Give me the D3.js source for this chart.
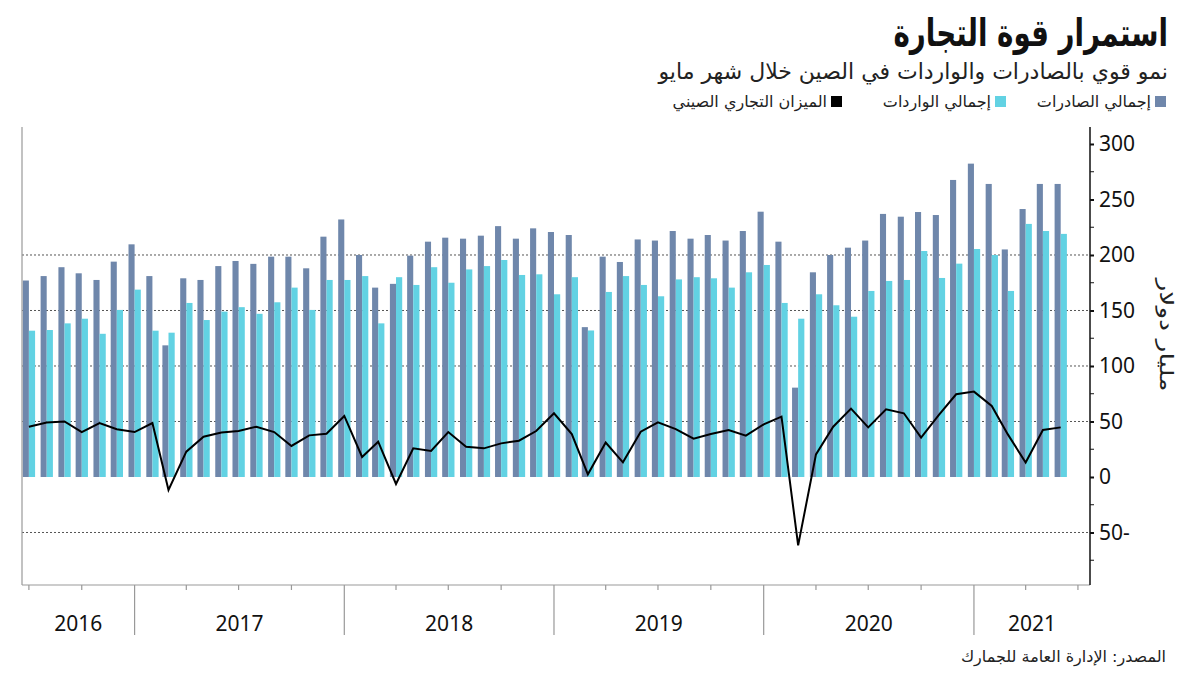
<!DOCTYPE html>
<html><head><meta charset="utf-8">
<script src="https://cdn.jsdelivr.net/npm/d3@7"></script>
<style>body{margin:0;background:#fff} svg{display:block}</style>
</head><body>
<svg id="c" width="1200" height="675"></svg>
<script>
// ---- data (USD billions) ----
const months = [
 "2016-06","2016-07","2016-08","2016-09","2016-10","2016-11","2016-12",
 "2017-01","2017-02","2017-03","2017-04","2017-05","2017-06","2017-07","2017-08","2017-09","2017-10","2017-11","2017-12",
 "2018-01","2018-02","2018-03","2018-04","2018-05","2018-06","2018-07","2018-08","2018-09","2018-10","2018-11","2018-12",
 "2019-01","2019-02","2019-03","2019-04","2019-05","2019-06","2019-07","2019-08","2019-09","2019-10","2019-11","2019-12",
 "2020-01","2020-02","2020-03","2020-04","2020-05","2020-06","2020-07","2020-08","2020-09","2020-10","2020-11","2020-12",
 "2021-01","2021-02","2021-03","2021-04","2021-05"];
const exportsVals = [
 177,181,189,183.5,177.5,194,209.6,
 181,118.6,179,177.5,190,194.6,192,198.5,198.5,188,216.5,232,
 200,170.6,174,199.4,212,215.6,214.7,217.4,226,214.7,224,220.7,
 218,135,198.5,193.7,214,213,221.6,214.7,218,213,221.6,239,
 212,80.5,184.4,200,206.6,213,237,234.5,238.7,236,267.6,282.3,
 264,205,241.4,264,264];
const importsVals = [
 131.8,132.4,138.4,142.6,129,150.5,168.8,
 131.8,130,156.8,141.4,149,153,147,157.4,170.6,150.5,177.5,177.5,
 181,138.4,180,173,189,175,187,190,195.5,182,182.6,164.6,
 180,132,166.7,181,173,162.8,178,180,179,170.6,184.4,191,
 156.8,142.6,164.6,154.7,144.4,167.6,176.6,177.5,203.6,179.3,192.2,205.4,
 200,167.6,228,221.6,219];
const balanceVals = [
 45.3,49,50,40.5,48.6,43,40.5,
 48.6,-11.7,22.8,36.3,40,41.4,45.3,40.5,28,37.5,39,55,
 18,31.8,-6.3,25.8,23.4,40.5,27.3,25.8,30.3,32.7,41.4,57.4,
 38.7,2.4,31,13.2,40.8,49.2,43.2,34.5,38.7,42.3,37.2,47.4,
 54.4,-61.6,20.4,45.3,61.6,44.7,61,57.4,35.4,55.9,74.5,76.9,
 64,38.4,13,42.3,44.7];
const yTickVals = [-50,0,50,100,150,200,250,300];
const yMinorVals = [-75,-25,25,75,125,175,225,275];
const gridVals = [-50,50,100,150,200];
const years = ["2016","2017","2018","2019","2020","2021"];

const title = "استمرار قوة التجارة";
const subtitle = "نمو قوي بالصادرات والواردات في الصين خلال شهر مايو";
const legendItems = [
  {label:"إجمالي الصادرات", color:"#6f87ab"},
  {label:"إجمالي الواردات", color:"#62d2e3"},
  {label:"الميزان التجاري الصيني", color:"#000"}
];
const yTitle = "مليار دولار";
const source = "المصدر: الإدارة العامة للجمارك";

// ---- drawing ----
const svg = d3.select("#c");
const L = 22, R = 1090, T = 127, B = 585;
const parse = d3.timeParse("%Y-%m");
const x = d3.scaleTime().domain([new Date(2016,5,19), new Date(2021,6,22)]).range([L, R]);
const y = d3.scaleLinear().domain([-97.3, 315.3]).range([B, T]);
const pos = m => x(d3.timeMonth.offset(parse(m), 1));
const arFont = "'DejaVu Sans', 'Noto Sans', sans-serif";
const numFont = "'Noto Sans', 'Open Sans', sans-serif";

// grid
svg.append("g").selectAll("line").data(gridVals).join("line")
  .attr("x1", L).attr("x2", R).attr("y1", d => y(d)).attr("y2", d => y(d))
  .attr("stroke", "#555").attr("stroke-width", 1).attr("stroke-dasharray", "2,2");

// bars
const cExp = legendItems[0].color, cImp = legendItems[1].color;
svg.append("g").selectAll("rect").data(months).join("rect")
  .attr("x", m => pos(m) - 6.1).attr("width", 6.1)
  .attr("y", (m,i) => y(exportsVals[i])).attr("height", (m,i) => y(0) - y(exportsVals[i]))
  .attr("fill", cExp);
svg.append("g").selectAll("rect").data(months).join("rect")
  .attr("x", m => pos(m)).attr("width", 6.2)
  .attr("y", (m,i) => y(importsVals[i])).attr("height", (m,i) => y(0) - y(importsVals[i]))
  .attr("fill", cImp);

// balance line
svg.append("path")
  .attr("d", d3.line().x((d,i) => pos(months[i])).y(d => y(d))(balanceVals))
  .attr("fill", "none").attr("stroke", "#000").attr("stroke-width", 2).attr("stroke-linejoin", "miter");

// frame lines (left & bottom gray)
svg.append("line").attr("x1", L).attr("x2", L).attr("y1", T).attr("y2", B).attr("stroke", "#999").attr("stroke-width", 1.2);
svg.append("line").attr("x1", L).attr("x2", R).attr("y1", B).attr("y2", B).attr("stroke", "#999").attr("stroke-width", 1.2);

// bottom ticks (quarters), year boundaries long
const qTicks = d3.timeMonth.every(3).range(x.domain()[0], x.domain()[1]);
svg.append("g").selectAll("line").data(qTicks).join("line")
  .attr("x1", d => x(d)).attr("x2", d => x(d)).attr("y1", B)
  .attr("y2", d => d.getMonth() === 0 ? 635 : B + 5)
  .attr("stroke", "#999").attr("stroke-width", 1.2);

// year labels
svg.append("g").selectAll("text").data(years).join("text")
  .attr("x", yr => {
    const a = Math.max(L, x(new Date(+yr,0,1))), b = Math.min(R, x(new Date(+yr+1,0,1)));
    return (a + b) / 2;
  })
  .attr("y", 631).attr("text-anchor", "middle")
  .attr("font-family", numFont).attr("font-size", 21).attr("fill", "#111")
  .text(d => d);

// right axis
const ax = d3.axisRight(y).tickValues(yTickVals).tickSize(4).tickPadding(5)
  .tickFormat(d => d < 0 ? Math.abs(d) + "-" : d);
const gA = svg.append("g").attr("transform", `translate(${R},0)`).call(ax);
gA.select(".domain").attr("d", `M0,${T}V${B}`).attr("stroke", "#111").attr("stroke-width", 1.5);
gA.selectAll(".tick line").attr("stroke", "#111").attr("stroke-width", 2);
gA.selectAll(".tick text").attr("font-family", numFont).attr("font-size", 21).attr("fill", "#111");
svg.append("g").selectAll("line").data(yMinorVals).join("line")
  .attr("x1", R).attr("x2", R + 4).attr("y1", d => y(d)).attr("y2", d => y(d))
  .attr("stroke", "#111").attr("stroke-width", 1);

// y title
svg.append("text").attr("transform", "translate(1160,335) rotate(90) scale(1.4,1)")
  .attr("text-anchor", "middle").attr("font-family", arFont).attr("font-size", 19).attr("fill", "#222")
  .text(yTitle);

// RTL text helper: anchored at right edge
function rtlText(xr, yb, txt, size, weight, color) {
  return svg.append("text").attr("x", xr).attr("y", yb)
    .attr("direction", "rtl").attr("text-anchor", "start")
    .attr("font-family", arFont).attr("font-size", size).attr("font-weight", weight || "normal")
    .attr("fill", color || "#222").text(txt);
}

// title (condensed horizontally to match the reference's narrow display face)
svg.append("text").attr("transform", "translate(1168,46) scale(0.73,1)")
  .attr("direction", "rtl").attr("text-anchor", "start")
  .attr("font-family", arFont).attr("font-size", 38).attr("font-weight", "bold")
  .attr("fill", "#111").text(title);
rtlText(1168, 79, subtitle, 22, "normal", "#222");

// legend
const legX = [1166, 1006, 842];
legendItems.forEach((it, i) => {
  svg.append("rect").attr("x", legX[i] - 11).attr("y", 96).attr("width", 11).attr("height", 11).attr("fill", it.color);
  rtlText(legX[i] - 15, 107, it.label, 16, "normal", "#222");
});

// source
rtlText(1166, 662, source, 16, "normal", "#222");
</script>
</body></html>
